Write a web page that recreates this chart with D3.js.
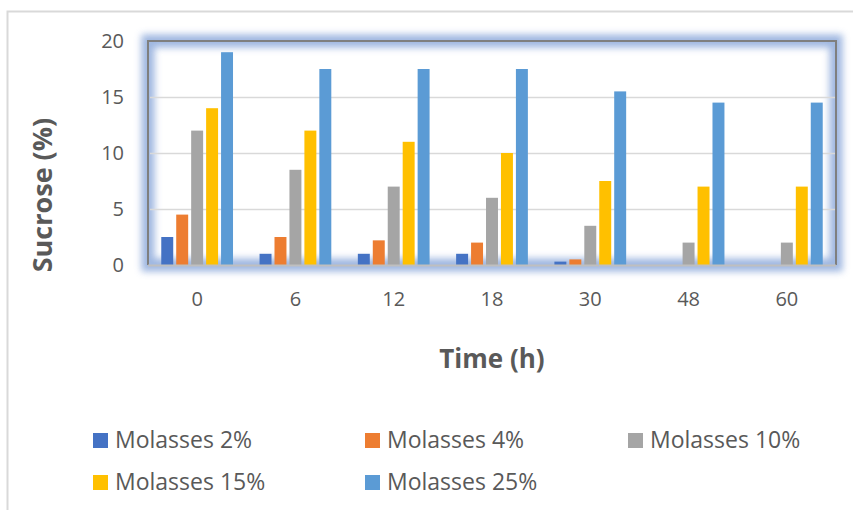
<!DOCTYPE html>
<html>
<head>
<meta charset="utf-8">
<script src="https://cdn.jsdelivr.net/npm/d3@7"></script>
<style>
  html, body { margin: 0; padding: 0; background: #fff; }
  svg { display: block; }
  text { font-family: "Open Sans", "Noto Sans", sans-serif; fill: #595959; }
</style>
</head>
<body>
<svg id="chart" width="853" height="510"></svg>
<script>
// Sampling times (h)
const categories = ["0", "6", "12", "18", "30", "48", "60"];
// Sucrose (%) for each molasses concentration
const series = ["Molasses 2%", "Molasses 4%", "Molasses 10%", "Molasses 15%", "Molasses 25%"];
const molasses2  = [2.5, 1.0, 1.0, 1.0, 0.3, 0, 0];
const molasses4  = [4.5, 2.5, 2.2, 2.0, 0.5, 0, 0];
const molasses10 = [12, 8.5, 7, 6, 3.5, 2, 2];
const molasses15 = [14, 12, 11, 10, 7.5, 7, 7];
const molasses25 = [19, 17.5, 17.5, 17.5, 15.5, 14.5, 14.5];
const yTicks = [0, 5, 10, 15, 20];
const colors = ["#4472C4", "#ED7D31", "#A5A5A5", "#FFC000", "#5B9BD5"];

const values = [molasses2, molasses4, molasses10, molasses15, molasses25];
const rows = categories.map((c, i) => ({
  cat: c,
  vals: series.map((s, j) => ({ key: s, value: values[j][i], color: colors[j] }))
}));

const svg = d3.select("#chart");
const plot = { left: 148, right: 836, top: 41, bottom: 265 };

// Outer chart border
svg.append("rect")
  .attr("x", 7.5).attr("y", 11.5)
  .attr("width", 900).attr("height", 600)
  .attr("fill", "none").attr("stroke", "#d9d9d9").attr("stroke-width", 2);

const x0 = d3.scaleBand().domain(categories)
  .range([plot.left, plot.right]).paddingInner(0.27).paddingOuter(0.135);
const x1 = d3.scaleBand().domain(series)
  .range([0, x0.bandwidth()]).paddingInner(0.2).paddingOuter(0);
const y = d3.scaleLinear().domain([0, 20]).range([plot.bottom, plot.top]);

// Glow around the plot area
const defs = svg.append("defs");
defs.append("filter").attr("id", "glow")
  .attr("x", "-10%").attr("y", "-20%").attr("width", "120%").attr("height", "140%")
  .append("feGaussianBlur").attr("stdDeviation", 3.8);

svg.append("rect")
  .attr("x", plot.left).attr("y", plot.top)
  .attr("width", plot.right - plot.left).attr("height", plot.bottom - plot.top)
  .attr("fill", "none").attr("stroke", "#8eaadb").attr("stroke-width", 13)
  .attr("opacity", 0.85).attr("filter", "url(#glow)");

// Gridlines
svg.append("g")
  .selectAll("line").data(yTicks.filter(t => t > 0 && t < 20)).join("line")
  .attr("x1", plot.left + 2).attr("x2", plot.right - 1)
  .attr("y1", d => Math.round(y(d)) + 0.5).attr("y2", d => Math.round(y(d)) + 0.5)
  .attr("stroke", "#d9d9d9").attr("stroke-width", 1.5);

// Bars
svg.append("g")
  .selectAll("g").data(rows).join("g")
  .attr("transform", d => `translate(${x0(d.cat)},0)`)
  .selectAll("rect").data(d => d.vals.filter(v => v.value > 0)).join("rect")
  .attr("x", d => x1(d.key))
  .attr("y", d => y(d.value))
  .attr("width", x1.bandwidth())
  .attr("height", d => y(0) - y(d.value))
  .attr("fill", d => d.color);

// Plot frame: darker gray on top/left/right, light gray baseline
svg.append("path")
  .attr("d", `M${plot.left},${plot.bottom} V${plot.top} H${plot.right} V${plot.bottom}`)
  .attr("fill", "none").attr("stroke", "#7f7f7f").attr("stroke-width", 2);
svg.append("line")
  .attr("x1", plot.left).attr("x2", plot.right)
  .attr("y1", plot.bottom + 0.5).attr("y2", plot.bottom + 0.5)
  .attr("stroke", "#bfbfbf").attr("stroke-width", 2);

// Y axis labels
const yAxis = d3.axisLeft(y).tickValues(yTicks).tickSize(0).tickPadding(0);
const gy = svg.append("g").attr("transform", "translate(124,0)").call(yAxis);
gy.select(".domain").remove();
gy.selectAll("text").attr("font-size", 20).attr("fill", "#595959")
  .style("font-family", '"Open Sans", sans-serif');

// X axis labels
const xAxis = d3.axisBottom(x0).tickSize(0).tickPadding(0);
const gx = svg.append("g").attr("transform", "translate(0,292)").call(xAxis);
gx.select(".domain").remove();
gx.selectAll("text").attr("font-size", 20).attr("fill", "#595959")
  .style("font-family", '"Open Sans", sans-serif');

// Axis titles
svg.append("text")
  .attr("x", (plot.left + plot.right) / 2).attr("y", 368)
  .attr("text-anchor", "middle").attr("font-size", 26).attr("font-weight", "bold")
  .text("Time (h)");
svg.append("text")
  .attr("transform", "translate(52,195) rotate(-90)")
  .attr("text-anchor", "middle").attr("font-size", 27).attr("font-weight", "bold")
  .text("Sucrose (%)");

// Legend
const legendPos = [[93, 440], [365, 440], [628, 440], [93, 482], [365, 482]];
const lg = svg.append("g").selectAll("g").data(series).join("g")
  .attr("transform", (d, i) => `translate(${legendPos[i][0]},${legendPos[i][1]})`);
lg.append("rect").attr("x", 0).attr("y", -7).attr("width", 15).attr("height", 15)
  .attr("fill", (d, i) => colors[i]);
lg.append("text").attr("x", 22).attr("y", 0).attr("dy", "0.36em")
  .attr("font-size", 23).text(d => d);
</script>
</body>
</html>
